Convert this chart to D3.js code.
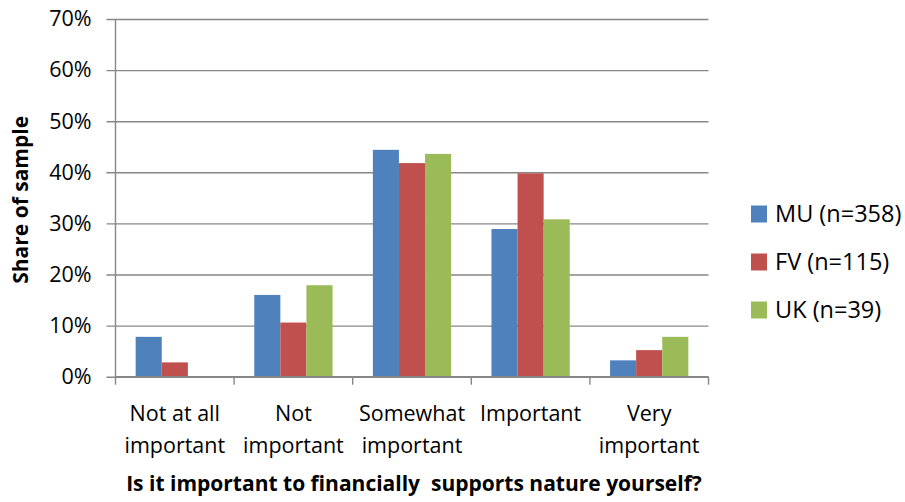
<!DOCTYPE html>
<html>
<head>
<meta charset="utf-8">
<script src="https://cdn.jsdelivr.net/npm/d3@7"></script>
<style>
  body { margin: 0; background: white; }
  text { font-family: "Open Sans", sans-serif; fill: #000; }
</style>
</head>
<body>
<div id="chart"></div>
<script>
/* CONSTANTS AND GLOBALS */
const width = 905;
const height = 502;
const margin = { top: 19, right: 196.5, bottom: 125.3, left: 115.5 };
const plotW = width - margin.left - margin.right;
const plotH = height - margin.top - margin.bottom;
const axisColor = '#878787';

/* DATA */
const categories = ['Not at all important', 'Not important', 'Somewhat important', 'Important', 'Very important'];
const categoryLines = [['Not at all', 'important'], ['Not', 'important'], ['Somewhat', 'important'], ['Important'], ['Very', 'important']];
const series = ['MU (n=358)', 'FV (n=115)', 'UK (n=39)'];
const colors = ['#4F81BD', '#C0504D', '#9BBB59'];
const mu = [7.8, 16.0, 44.4, 28.9, 3.2];
const fv = [2.8, 10.6, 41.8, 39.8, 5.2];
const uk = [0, 17.9, 43.6, 30.8, 7.8];
const yTicks = [0, 10, 20, 30, 40, 50, 60, 70];
const yTitle = 'Share of sample';
const xTitle = 'Is it important to financially  supports nature yourself?';

const values = [mu, fv, uk];
const rows = categories.map((c, i) => ({
  category: c,
  vals: series.map((s, j) => ({ series: s, value: values[j][i] }))
}));

/* SCALES */
const x0 = d3.scaleBand()
  .domain(categories)
  .range([0, plotW])
  .paddingInner(0.34)
  .paddingOuter(0.17);

const x1 = d3.scaleBand()
  .domain(series)
  .range([0, x0.bandwidth()]);

const y = d3.scaleLinear()
  .domain([0, 70])
  .range([plotH, 0]);

const color = d3.scaleOrdinal().domain(series).range(colors);

/* SVG */
const svg = d3.select('#chart')
  .append('svg')
  .attr('width', width)
  .attr('height', height);

const g = svg.append('g')
  .attr('transform', `translate(${margin.left},${margin.top})`);

// gridlines + y tick labels
g.append('g')
  .attr('transform', 'translate(-9,0)')
  .call(d3.axisLeft(y)
    .tickValues(yTicks)
    .tickFormat(d => d + '%')
    .tickSize(-(plotW + 9))
    .tickPadding(15))
  .call(a => a.select('.domain').remove())
  .call(a => a.selectAll('line').attr('stroke', axisColor).attr('stroke-width', 1.4))
  .call(a => a.selectAll('text')
    .attr('font-family', '"Open Sans", sans-serif')
    .attr('font-size', 21.5)
    .attr('fill', '#000'));

// bars
g.append('g')
  .selectAll('g')
  .data(rows)
  .join('g')
  .attr('transform', d => `translate(${x0(d.category)},0)`)
  .selectAll('rect')
  .data(d => d.vals)
  .join('rect')
  .attr('x', d => x1(d.series))
  .attr('y', d => y(d.value))
  .attr('width', x1.bandwidth())
  .attr('height', d => y(0) - y(d.value))
  .attr('fill', d => color(d.series));

// y axis line
g.append('line')
  .attr('x1', 0).attr('x2', 0)
  .attr('y1', 0).attr('y2', plotH)
  .attr('stroke', axisColor)
  .attr('stroke-width', 1.4);

// x axis line + boundary ticks
const xAxisG = g.append('g').attr('transform', `translate(0,${plotH})`);
xAxisG.append('line')
  .attr('x1', 0).attr('x2', plotW)
  .attr('stroke', axisColor)
  .attr('stroke-width', 1.4);
xAxisG.selectAll('.bound')
  .data(d3.range(categories.length + 1))
  .join('line')
  .attr('class', 'bound')
  .attr('x1', i => i * x0.step())
  .attr('x2', i => i * x0.step())
  .attr('y1', 0)
  .attr('y2', 8)
  .attr('stroke', axisColor)
  .attr('stroke-width', 1.4);

// category labels
xAxisG.selectAll('.cat')
  .data(categories)
  .join('text')
  .attr('class', 'cat')
  .attr('text-anchor', 'middle')
  .attr('font-size', 21.5)
  .attr('transform', d => `translate(${x0(d) + x0.bandwidth() / 2},44)`)
  .selectAll('tspan')
  .data((d, i) => categoryLines[i])
  .join('tspan')
  .attr('x', 0)
  .attr('y', (d, i) => i * 32)
  .text(d => d);

// x title
svg.append('text')
  .attr('x', 414)
  .attr('y', 491)
  .attr('text-anchor', 'middle')
  .attr('font-size', 21)
  .attr('font-weight', 'bold')
  .style('white-space', 'pre')
  .text(xTitle);

// y title
svg.append('text')
  .attr('transform', `translate(28,${margin.top + plotH / 2 + 2}) rotate(-90)`)
  .attr('text-anchor', 'middle')
  .attr('font-size', 21)
  .attr('font-weight', 'bold')
  .text(yTitle);

// legend
const legend = svg.append('g')
  .attr('transform', 'translate(751,214)')
  .selectAll('g')
  .data(series)
  .join('g')
  .attr('transform', (d, i) => `translate(0,${i * 48})`);

legend.append('rect')
  .attr('x', 0)
  .attr('y', -8.5)
  .attr('width', 16)
  .attr('height', 17)
  .attr('fill', d => color(d));

legend.append('text')
  .attr('x', 24)
  .attr('dy', '0.36em')
  .attr('font-size', 23.5)
  .text(d => d);
</script>
</body>
</html>
